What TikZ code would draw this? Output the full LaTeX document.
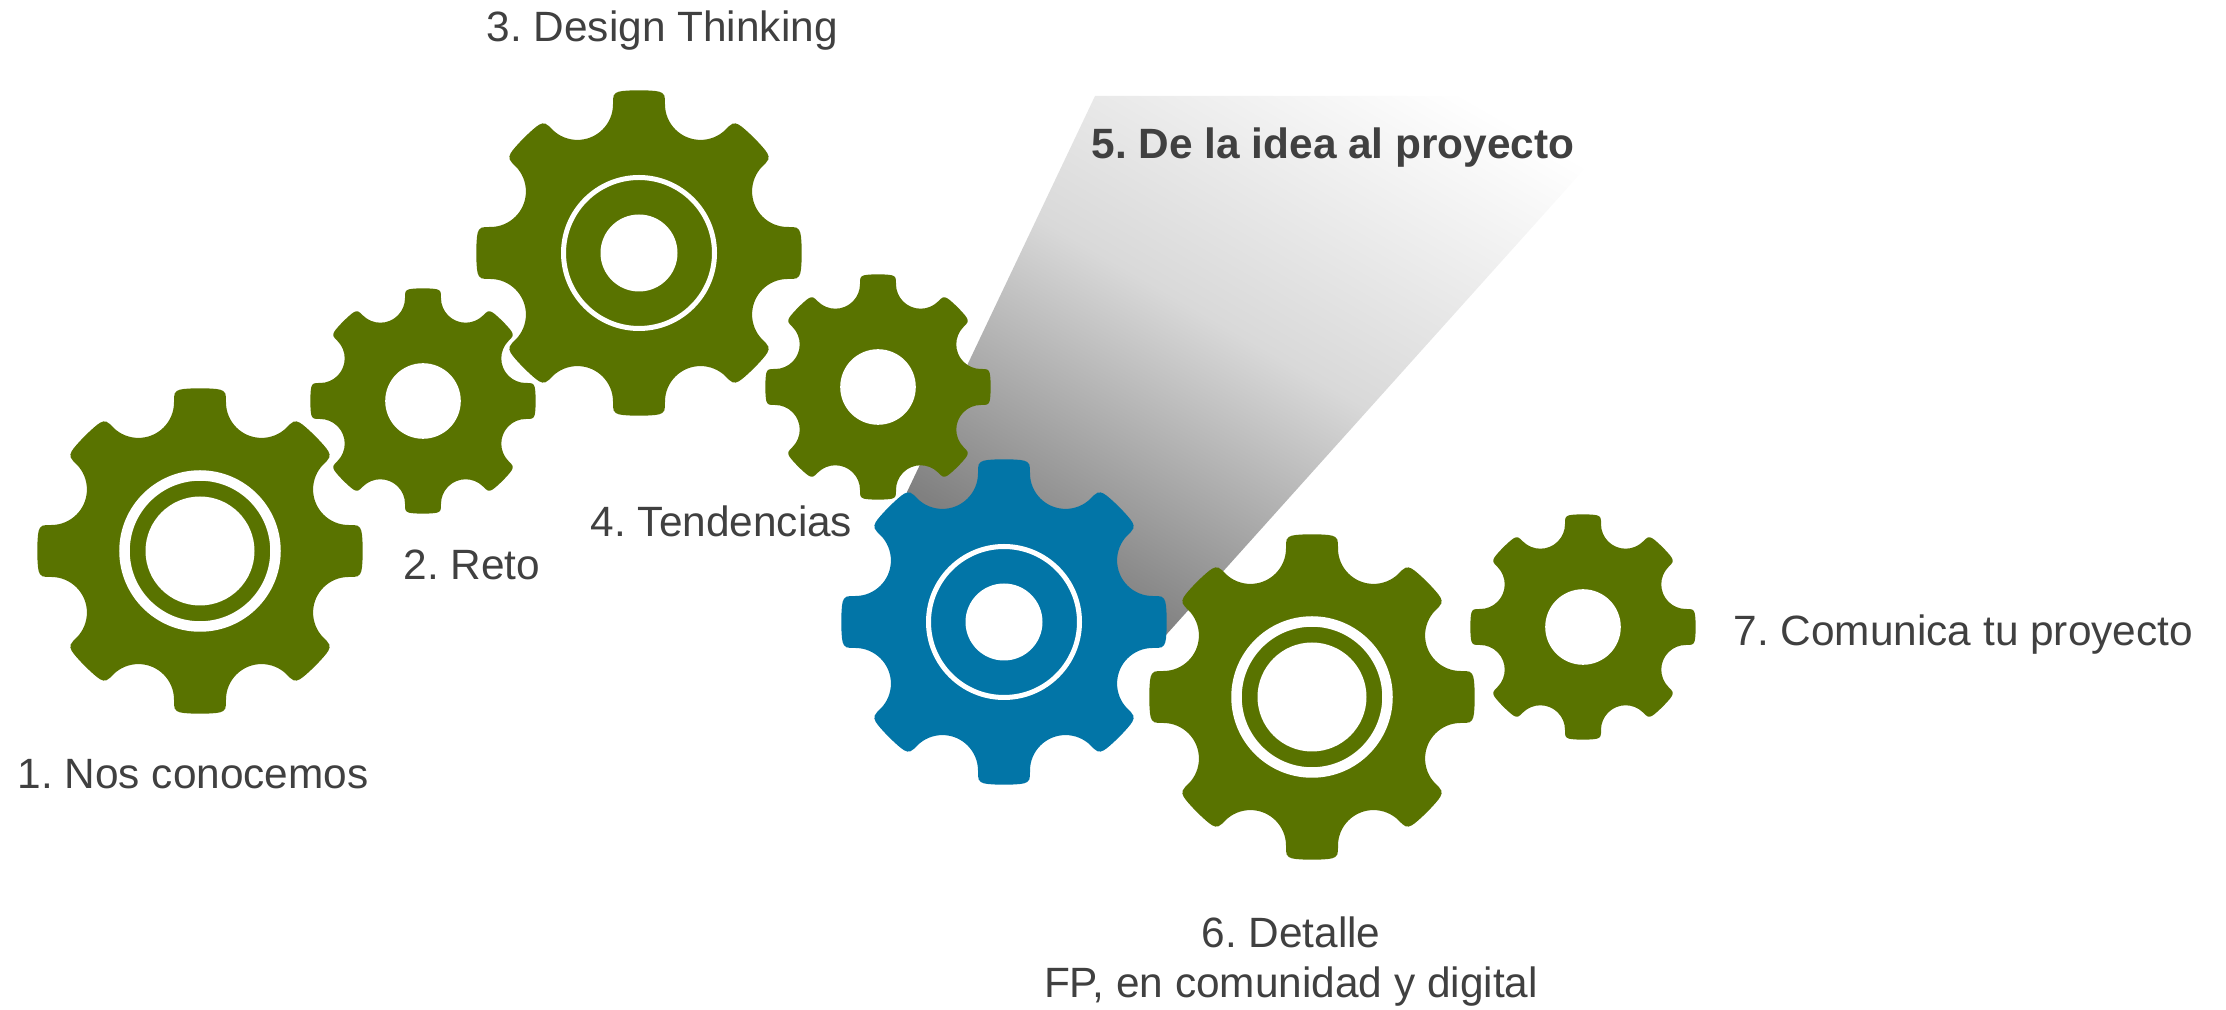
\documentclass[tikz,border=0pt]{standalone}
\usepackage{fontspec}
\setmainfont{Liberation Sans}
\usepackage{tikz}
\definecolor{leaf}{HTML}{597300}
\definecolor{sea}{HTML}{0275A7}
\definecolor{ink}{HTML}{404040}
\pgfdeclareverticalshading{stepfade}{14cm}{color(0cm)=(black!50); color(0.2cm)=(black!50); color(3.2cm)=(black!15); color(6.4cm)=(white)}
\tikzset{
  lbl/.style={text=ink, inner sep=0pt, font=\fontsize{12.05}{14.2}\selectfont\frenchspacing},
  ringwide/.style={draw=white, line width=0.105cm},
  ringthin/.style={draw=white, line width=0.05cm},
  gearwheel/.pic={
    \path[pic actions] (-9.92:.9289)
      \foreach \t in {0,45,...,315} {
        -- (\t-9.61:.9584)
        .. controls (\t-9.23:.9979) and (\t-7.74:1.0021) .. (\t-5.73:1.002)
        .. controls (\t-2.28:1.0038) and (\t+2.28:1.0038) .. (\t+5.73:1.002)
        .. controls (\t+7.74:1.0021) and (\t+9.23:.9979) .. (\t+9.61:.9584)
        -- (\t+9.92:.9289)
        arc[start angle=\t-90, delta angle=-135, radius=.219]
      } -- cycle;
  }
}

\begin{document}
\begin{tikzpicture}[x=0.01cm, y=-0.01cm]
  \useasboundingbox (0,0) rectangle (2226,1010);

  \coordinate (one) at (200,551);
  \coordinate (two) at (423,401);
  \coordinate (three) at (639,253);
  \coordinate (four) at (878,387);
  \coordinate (five) at (1004,622);
  \coordinate (six) at (1312,697);
  \coordinate (seven) at (1583,627);

  % highlight behind step five
  \begin{scope}
    \clip (1095,96) -- (1650,96) -- (1166,635) -- (five) -- (907,492) -- cycle;
    \node[rotate=-30, inner sep=0pt] at (1240,335) (fade) {\pgfuseshading{stepfade}};
  \end{scope}

  \foreach \g in {one, three, six}
    \pic[fill=leaf, scale=162.5] at (\g) {gearwheel};
  \foreach \g in {two, four, seven}
    \pic[fill=leaf, scale=112.5] at (\g) {gearwheel};
  \pic[fill=sea, scale=162.5] at (five) {gearwheel};

  \foreach \g in {one, six} {
    \draw[ringwide] (\g) circle[radius=75.5];
    \fill[white] (\g) circle[radius=54.5];
  }
  \foreach \g in {three, five} {
    \draw[ringthin] (\g) circle[radius=75.5];
    \fill[white] (\g) circle[radius=38.5];
  }
  \foreach \g in {two, four, seven}
    \fill[white] (\g) circle[radius=37.8];

  \node[lbl, anchor=base west] at (17,789) (nos) {1. Nos conocemos};
  \node[lbl, anchor=base west] at (403,580) (reto) {2. Reto};
  \node[lbl, anchor=base west] at (486,42) (design) {3. Design Thinking};
  \node[lbl, anchor=base west] at (590,537) (tend) {4. Tendencias};
  \node[lbl, anchor=base west, font=\fontsize{12.05}{14.2}\selectfont\frenchspacing\bfseries] at (1091,159) (idea) {5. De la idea al proyecto};
  \node[lbl, anchor=base] at (1291,948) (detalle) {6. Detalle};
  \node[lbl, anchor=base] at (1291,998) (fp) {FP, en comunidad y digital};
  \node[lbl, anchor=base west] at (1733,646) (comunica) {7. Comunica tu proyecto};
\end{tikzpicture}
\end{document}
